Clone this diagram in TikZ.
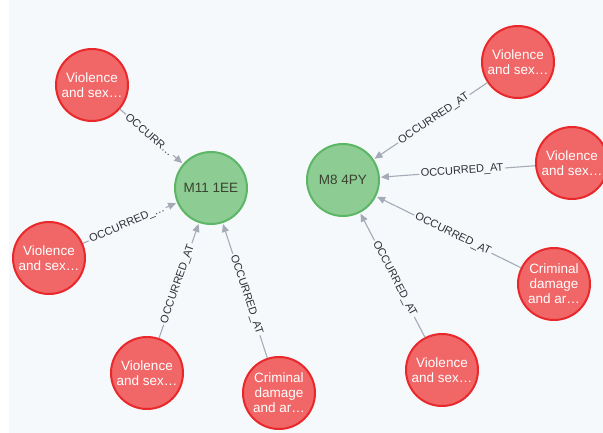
\documentclass[tikz,border=0pt]{standalone}
\usepackage{fontspec}
\setmainfont{Liberation Sans}
\usetikzlibrary{arrows.meta}
\definecolor{canvas}{HTML}{F6F9FC}
\definecolor{crimefill}{HTML}{F16667}
\definecolor{crimeedge}{HTML}{E8282A}
\definecolor{postfill}{HTML}{8DCC93}
\definecolor{postedge}{HTML}{5DB665}
\definecolor{posttext}{HTML}{3A4230}
\definecolor{reledge}{HTML}{A5ABB6}
\definecolor{reltext}{HTML}{2E3035}
\tikzset{
  crime/.style={circle, minimum size=72pt, inner sep=0pt, line width=2pt,
    draw=crimeedge, fill=crimefill, text=white, align=center,
    font=\fontsize{13.5}{15}\selectfont},
  postcode/.style={circle, minimum size=72pt, inner sep=0pt, line width=2pt,
    draw=postedge, fill=postfill, text=posttext,
    font=\fontsize{13.5}{15}\selectfont},
  rel/.style={draw=reledge, line width=1.1pt, shorten >=1pt,
    -{Triangle[length=8pt,width=7pt,fill=reledge]}},
  rellabel/.style={sloped, pos=0.47, fill=canvas, inner sep=1.5pt,
    text=reltext, font=\fontsize{11}{12}\selectfont}
}
\begin{document}
\begin{tikzpicture}[x=1pt,y=-1pt]
  % canvas
  \useasboundingbox (0,0) rectangle (603,433);
  \clip (0,0) rectangle (603,433);
  \fill[white] (0,0) rectangle (603,433);
  \fill[canvas] (9,0) rectangle (603,433);

  % postcode nodes
  \node[postcode] (m11) at (211,188) {M11 1EE};
  \node[postcode] (m8)  at (343,180) {M8 4PY};

  % crimes around M11 1EE
  \node[crime] (c1) at (92,85)   {Violence\\and sex…};
  \node[crime] (c2) at (49,258)  {Violence\\and sex…};
  \node[crime] (c3) at (147,373) {Violence\\and sex…};
  \node[crime] (c4) at (279,393) {Criminal\\damage\\and ar…};

  % crimes around M8 4PY
  \node[crime] (c5) at (518,62)  {Violence\\and sex…};
  \node[crime] (c6) at (572,163) {Violence\\and sex…};
  \node[crime] (c7) at (554,284) {Criminal\\damage\\and ar…};
  \node[crime] (c8) at (442,370) {Violence\\and sex…};

  % OCCURRED_AT relationships
  \draw[rel] (c1) -- node[rellabel] {OCCURR…} (m11);
  \draw[rel] (c2) -- node[rellabel] {OCCURRED\_…} (m11);
  \draw[rel] (c3) -- node[rellabel] {OCCURRED\_AT} (m11);
  \draw[rel] (c4) -- node[rellabel] {OCCURRED\_AT} (m11);
  \draw[rel] (c5) -- node[rellabel] {OCCURRED\_AT} (m8);
  \draw[rel] (c6) -- node[rellabel] {OCCURRED\_AT} (m8);
  \draw[rel] (c7) -- node[rellabel] {OCCURRED\_AT} (m8);
  \draw[rel] (c8) -- node[rellabel] {OCCURRED\_AT} (m8);
\end{tikzpicture}
\end{document}
